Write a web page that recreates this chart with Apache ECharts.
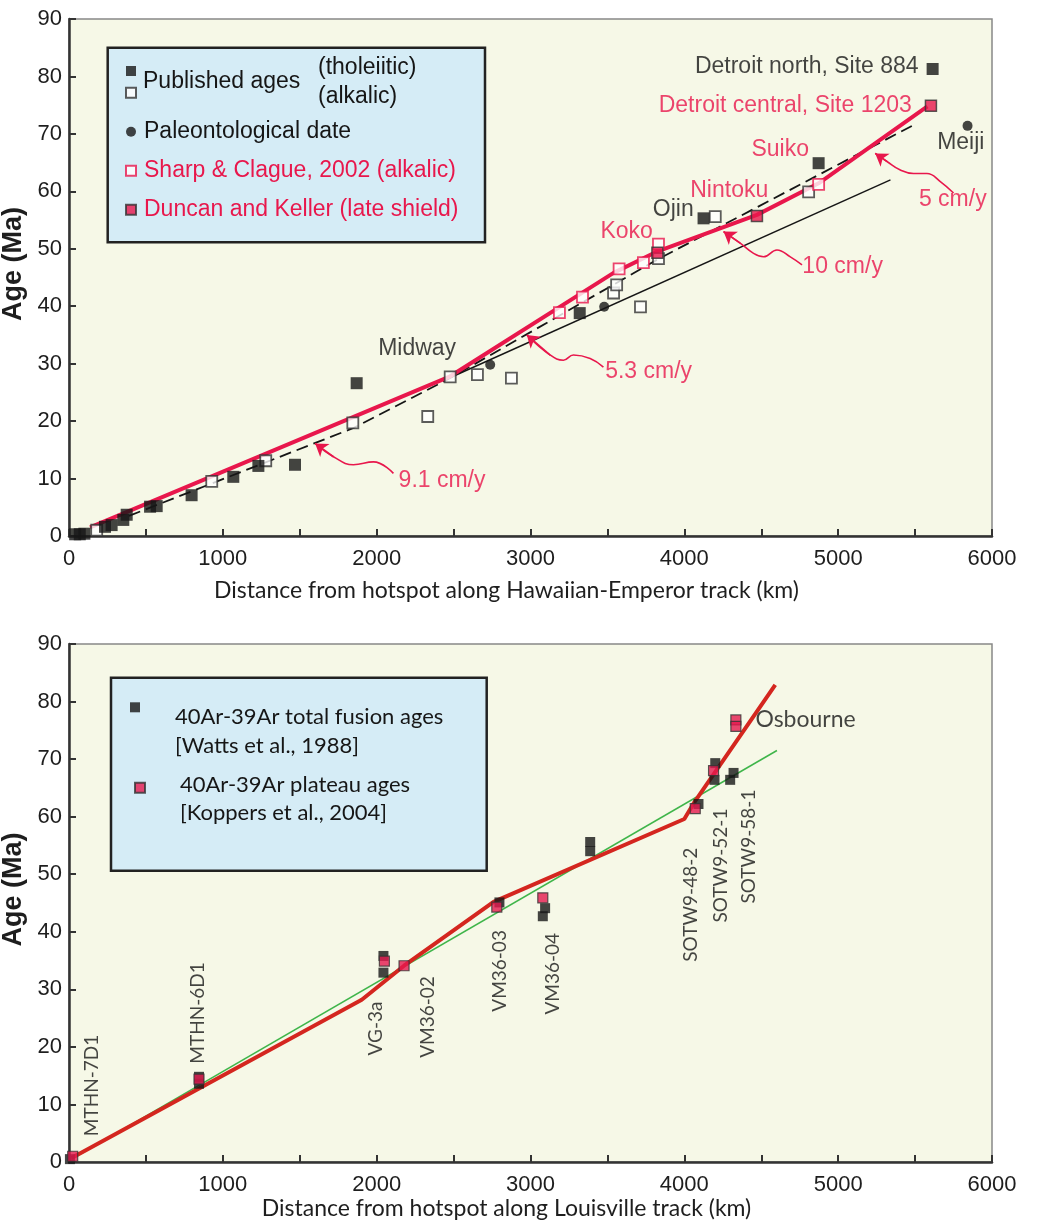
<!DOCTYPE html>
<html>
<head>
<meta charset="utf-8">
<script src="https://cdn.jsdelivr.net/npm/echarts@6/dist/echarts.min.js"></script>
<style>
  html, body { margin: 0; padding: 0; background: #fff; }
  #chart { width: 1043px; height: 1222px; }
</style>
</head>
<body>
<div id="chart"></div>
<script>
// ---- Hawaiian-Emperor track (top panel), [distance km, age Ma] ----
const tholeiitic = [
  [40, 0.3], [70, 0.3], [100, 0.4], [234, 1.6], [277, 1.9], [353, 2.8], [375, 3.7],
  [527, 5.1], [570, 5.2], [797, 7.1], [1068, 10.3], [1231, 12.2], [1469, 12.4],
  [1870, 26.6], [3320, 38.8], [4125, 55.3], [4873, 64.9], [5614, 81.3]
];
const alkalic = [
  [180, 1.0], [928, 9.5], [1279, 13.1], [1845, 19.7], [2332, 20.8], [2478, 27.7],
  [2655, 28.1], [2876, 27.5], [3540, 42.3], [3560, 43.7], [3715, 39.9], [3832, 48.3],
  [4201, 55.6], [4808, 59.9]
];
const paleoDates = [[2738, 29.8], [3479, 39.9], [5841, 71.4]];
const sharpClague = [[3188, 38.9], [3338, 41.6], [3576, 46.5], [3734, 47.6], [3832, 50.8], [4873, 61.2]];
const duncanKeller = [[3825, 49.3], [4472, 55.7], [5603, 74.9]];

const hawaiiRate = [[137, 1.5], [2478, 27.8], [3540, 45.8], [3830, 49.6], [4472, 55.9], [4873, 61.4], [5580, 74.8]];
const hawaiiDashed = [[390, 3.5], [1849, 18.8], [2478, 27.5], [3830, 48.2], [5480, 71.4]];
const hawaiiSolid = [[2480, 27.6], [5340, 62.0]];

// annotation arrows (tail -> head)
const arrow91 = [[2109, 10.9], [1979, 12.9], [1849, 12.4], [1719, 13.8], [1600, 16.1]];
const arrow53 = [[3474, 29.4], [3388, 30.9], [3279, 31.5], [3214, 30.6], [3128, 31.5], [2976, 35.0]];
const arrow10 = [[4765, 47.2], [4689, 48.6], [4602, 49.8], [4515, 48.6], [4450, 49.2], [4363, 51.0], [4255, 53.0]];
const arrow5 = [[5750, 59.7], [5664, 61.7], [5577, 63.1], [5490, 63.1], [5404, 63.7], [5317, 65.2], [5241, 66.6]];

const topNotesBlack = [
  ['Midway', 2263, 32.7], ['Ojin', 3928, 56.8],
  ['Detroit north, Site 884', 4796, 81.7], ['Meiji', 5797, 68.4]
];
const topNotesRed = [
  ['Koko', 3625, 52.9], ['Nintoku', 4292, 60.2], ['Suiko', 4623, 67.2],
  ['Detroit central, Site 1203', 4656, 75.0],
  ['9.1 cm/y', 2425, 9.7], ['5.3 cm/y', 3768, 28.6], ['10 cm/y', 5029, 46.9], ['5 cm/y', 5745, 58.5]
];

// ---- Louisville track (bottom panel) ----
const totalFusion = [
  [6, 0.5], [845, 13.6], [845, 14.8], [2044, 35.8], [2044, 32.9], [2798, 45.1],
  [3095, 44.1], [3080, 42.7], [3388, 55.6], [3388, 54.0], [4092, 62.2],
  [4201, 69.3], [4196, 66.4], [4320, 67.6], [4298, 66.4]
];
const plateau = [
  [24, 1.0], [845, 14.4], [2050, 34.9], [2178, 34.1], [2781, 44.3], [3080, 45.9],
  [4071, 61.4], [4190, 68.0], [4335, 76.8], [4335, 75.7]
];
const louisvilleRed = [[17, 0.7], [1903, 28.2], [2178, 34.1], [2760, 45.2], [4000, 59.6], [4060, 62.3], [4591, 82.9]];
const louisvilleGreen = [[17, 0.5], [4602, 71.5]];

const louisvilleSites = [
  ['MTHN-7D1', 150, 13.3], ['MTHN-6D1', 839, 25.9], ['VG-3a', 1996, 23.2],
  ['VM36-02', 2335, 25.2], ['VM36-03', 2803, 33.2], ['VM36-04', 3147, 32.7],
  ['SOTW9-48-2', 4045, 44.7], ['SOTW9-52-1', 4240, 51.5], ['SOTW9-58-1', 4422, 54.8]
];
const louisvilleNotes = [['Osbourne', 4788, 76.8]];

const PINK = '#e8174c';
const DARKRED = '#d4261f';
const GREEN = '#3fb54a';
const INK = '#161616';
const SANS = '"Liberation Sans", Arial, sans-serif';
const MYRIAD = 'Lato, "Liberation Sans", sans-serif';

const chart = echarts.init(document.getElementById('chart'));

function xAxisFor(gridIndex, name, nameGap) {
  return {
    type: 'value', gridIndex, min: 0, max: 6000, interval: 500,
    axisLine: { show: true, onZero: false, lineStyle: { color: '#333', width: 2.5 } },
    axisTick: { inside: true, length: 7, lineStyle: { color: '#333', width: 2 } },
    axisLabel: {
      margin: 12, fontSize: 22, fontFamily: SANS, color: '#1e1e1e',
      formatter: (v) => (v % 1000 === 0 ? String(v) : '')
    },
    splitLine: { show: false },
    name, nameLocation: 'middle', nameGap,
    nameTextStyle: { fontFamily: MYRIAD, fontSize: 23, color: '#1e1e1e', padding: [0, 48, 0, 0] }
  };
}

function yAxisFor(gridIndex) {
  return {
    type: 'value', gridIndex, min: 0, max: 90, interval: 10,
    axisLine: { show: true, onZero: false, lineStyle: { color: '#333', width: 2.5 } },
    axisTick: { inside: true, length: 7, lineStyle: { color: '#333', width: 2 } },
    axisLabel: { margin: 7, fontSize: 22, fontFamily: SANS, color: '#1e1e1e' },
    splitLine: { show: false },
    // leading spaces nudge the title up the axis, as in the source figure
    name: '\u2002\u2002Age (Ma)', nameLocation: 'middle', nameGap: 30,
    nameTextStyle: { fontFamily: SANS, fontSize: 27, fontWeight: 'bold', color: '#1e1e1e' }
  };
}

function trend(data, gi, color, width, type) {
  return {
    type: 'line', xAxisIndex: gi, yAxisIndex: gi, data, symbol: 'none', silent: true,
    lineStyle: { color, width, type: type || 'solid' }, z: 2
  };
}

function arrowBody(data) {
  return {
    type: 'line', xAxisIndex: 0, yAxisIndex: 0, data, symbol: 'none', silent: true,
    smooth: 0.45, lineStyle: { color: PINK, width: 1.6 }, z: 6
  };
}

function points(name, data, gi, symbol, size, itemStyle) {
  return {
    name, type: 'scatter', xAxisIndex: gi, yAxisIndex: gi, data, symbol,
    symbolSize: size, itemStyle, z: 5
  };
}

function notes(list, gi, color, family, size, rotate) {
  return {
    type: 'scatter', xAxisIndex: gi, yAxisIndex: gi, silent: true, symbolSize: 0, z: 8,
    data: list.map(([name, x, y]) => ({ name, value: [x, y] })),
    label: {
      show: true, position: 'inside', formatter: '{b}', color,
      fontFamily: family, fontSize: size, rotate: rotate || 0
    }
  };
}

function iconLegend(name, left, top) {
  return {
    data: [name], left, top, padding: 0, itemWidth: 10, itemHeight: 10,
    selectedMode: false, formatter: () => '', textStyle: { fontSize: 10, lineHeight: 10 }
  };
}

function legendText(text, x, y, color, font) {
  return { type: 'text', z: 4, x, y, style: { text, fill: color, font, verticalAlign: 'middle' } };
}

const arrows = [arrow91, arrow53, arrow10, arrow5];
const topFont = '23px ' + SANS;
const botFont = '22px ' + MYRIAD;

const option = {
  animation: false,
  backgroundColor: '#ffffff',
  grid: [
    { left: 69, top: 19, width: 923, height: 517, outerBoundsMode: 'none', show: true,
      backgroundColor: '#f6f8e7', borderColor: '#888', borderWidth: 1.5 },
    { left: 69, top: 644, width: 923, height: 518, outerBoundsMode: 'none', show: true,
      backgroundColor: '#f6f8e7', borderColor: '#888', borderWidth: 1.5 }
  ],
  xAxis: [
    xAxisFor(0, 'Distance from hotspot along Hawaiian-Emperor track (km)', 43),
    xAxisFor(1, 'Distance from hotspot along Louisville track (km)', 34)
  ],
  yAxis: [yAxisFor(0), yAxisFor(1)],
  legend: [
    {
      data: ['tholeiitic', 'alkalic'], orient: 'vertical', left: 125, top: 66, padding: 0,
      itemWidth: 10, itemHeight: 10, itemGap: 10.7, selectedMode: false,
      formatter: () => '', textStyle: { fontSize: 10, lineHeight: 10 }
    },
    {
      data: [
        { name: 'Paleontological date', textStyle: { color: INK } },
        { name: 'Sharp & Clague, 2002 (alkalic)', textStyle: { color: PINK } },
        { name: 'Duncan and Keller (late shield)', textStyle: { color: PINK } }
      ],
      orient: 'vertical', left: 125, top: 117.7, padding: 0, itemWidth: 10, itemHeight: 10,
      itemGap: 11, selectedMode: false,
      textStyle: { fontFamily: SANS, fontSize: 23, lineHeight: 28, padding: [0, 0, 0, 3] }
    },
    iconLegend('40Ar-39Ar total fusion ages', 130, 702.3),
    iconLegend('40Ar-39Ar plateau ages', 134, 781.7)
  ],
  graphic: [
    { type: 'rect', z: 3, shape: { x: 107.7, y: 47.7, width: 377.3, height: 194.6 },
      style: { fill: '#d5ecf6', stroke: '#222', lineWidth: 2.5 } },
    { type: 'rect', z: 3, shape: { x: 111, y: 677.7, width: 375.7, height: 193 },
      style: { fill: '#d5ecf6', stroke: '#222', lineWidth: 2.5 } },
    legendText('Published ages', 143, 81.7, INK, topFont),
    legendText('(tholeiitic)', 318, 68, INK, topFont),
    legendText('(alkalic)', 318, 96.7, INK, topFont),
    legendText('40Ar-39Ar total fusion ages', 175, 716.7, INK, botFont),
    legendText('[Watts et al., 1988]', 175, 745.7, INK, botFont),
    legendText('40Ar-39Ar plateau ages', 180, 785, INK, botFont),
    legendText('[Koppers et al., 2004]', 180, 813.3, INK, botFont)
  ],
  series: [
    // top panel
    trend(hawaiiSolid, 0, INK, 1.5),
    trend(hawaiiDashed, 0, INK, 1.8, [12, 6]),
    trend(hawaiiRate, 0, PINK, 4),
    ...arrows.map(arrowBody),
    {
      type: 'lines', coordinateSystem: 'cartesian2d', xAxisIndex: 0, yAxisIndex: 0,
      silent: true, symbol: ['none', 'arrow'], symbolSize: 12, z: 6,
      lineStyle: { color: PINK, width: 1.6, opacity: 1, curveness: 0 },
      data: arrows.map((a) => ({ coords: a.slice(-2) }))
    },
    points('alkalic', alkalic, 0, 'rect', 11, { color: '#fff', borderColor: '#333', borderWidth: 1.8 }),
    points('tholeiitic', tholeiitic, 0, 'rect', 12, { color: INK }),
    points('Paleontological date', paleoDates, 0, 'circle', 10, { color: INK }),
    points('Sharp & Clague, 2002 (alkalic)', sharpClague, 0, 'rect', 11, { color: '#fff', borderColor: PINK, borderWidth: 1.8 }),
    points('Duncan and Keller (late shield)', duncanKeller, 0, 'rect', 11, { color: PINK, borderColor: '#333', borderWidth: 1.5 }),
    notes(topNotesBlack, 0, INK, SANS, 23),
    notes(topNotesRed, 0, PINK, SANS, 23),

    // bottom panel
    trend(louisvilleGreen, 1, GREEN, 1.5),
    trend(louisvilleRed, 1, DARKRED, 4),
    points('40Ar-39Ar total fusion ages', totalFusion, 1, 'rect', 10, { color: INK }),
    points('40Ar-39Ar plateau ages', plateau, 1, 'rect', 10, { color: '#e5194f', borderColor: '#333', borderWidth: 1.2 }),
    notes(louisvilleSites, 1, INK, MYRIAD, 19, 90),
    notes(louisvilleNotes, 1, INK, MYRIAD, 23)
  ]
};

chart.setOption(option);
</script>
</body>
</html>
